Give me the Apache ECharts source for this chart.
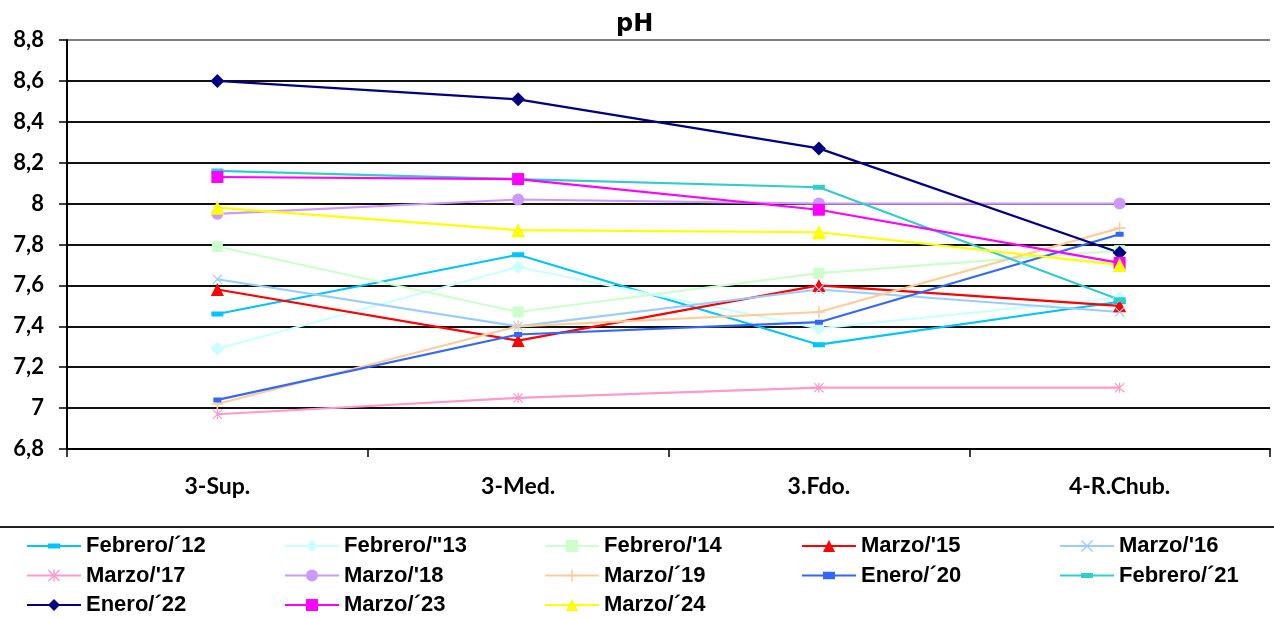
<!DOCTYPE html>
<html>
<head>
<meta charset="utf-8">
<title>pH</title>
<script src="https://cdn.jsdelivr.net/npm/echarts@6/dist/echarts.min.js"></script>
<style>
  html, body { margin: 0; padding: 0; background: #fff; }
  #chart { width: 1274px; height: 618px; }
</style>
</head>
<body>
<div id="chart"></div>
<script>
// Sampling points along the profile
const categories = ['3-Sup.', '3-Med.', '3.Fdo.', '4-R.Chub.'];

// pH readings per campaign (one value per sampling point)
const febrero12 = [7.46, 7.75, 7.31, 7.52];
const febrero13 = [7.29, 7.69, 7.39, 7.54];
const febrero14 = [7.79, 7.47, 7.66, 7.77];
const marzo15   = [7.58, 7.33, 7.60, 7.50];
const marzo16   = [7.63, 7.40, 7.58, 7.47];
const marzo17   = [6.97, 7.05, 7.10, 7.10];
const marzo18   = [7.95, 8.02, 8.00, 8.00];
const marzo19   = [7.02, 7.40, 7.47, 7.88];
const enero20   = [7.04, 7.36, 7.42, 7.85];
const febrero21 = [8.16, 8.12, 8.08, 7.53];
const enero22   = [8.60, 8.51, 8.27, 7.76];
const marzo23   = [8.13, 8.12, 7.97, 7.71];
const marzo24   = [7.98, 7.87, 7.86, 7.70];

// Value axis range
const yMin = 6.8;
const yMax = 8.8;
const yStep = 0.2;

// Marker shapes (dashes padded with empty points so their box stays square)
const DASH_WIDE  = 'path://M0,-3.5 L0,-3.5 Z M0,0 H12 V5 H0 Z M12,8.5 L12,8.5 Z';
const DASH_SHORT = 'path://M0,-1.5 L0,-1.5 Z M0,0 H8 V5 H0 Z M8,6.5 L8,6.5 Z';
const CROSS_X    = 'path://M0.8,0 L5,4.2 L9.2,0 L10,0.8 L5.8,5 L10,9.2 L9.2,10 L5,5.8 L0.8,10 L0,9.2 L4.2,5 L0,0.8 Z';
const ASTERISK   = 'path://M0.8,0 L5,4.2 L9.2,0 L10,0.8 L5.8,5 L10,9.2 L9.2,10 L5,5.8 L0.8,10 L0,9.2 L4.2,5 L0,0.8 Z M4.4,0 H5.6 V10 H4.4 Z';
const PLUS       = 'path://M4.35,0 H5.65 V4.35 H10 V5.65 H5.65 V10 H4.35 V5.65 H0 V4.35 H4.35 Z';

const seriesDefs = [
  { name: 'Febrero/´12', data: febrero12, color: '#00C4FF', symbol: DASH_WIDE,  size: 12 },
  { name: 'Febrero/"13', data: febrero13, color: '#CCFFFF', symbol: 'diamond',  size: 14 },
  { name: "Febrero/'14", data: febrero14, color: '#CCFFCC', symbol: 'rect',     size: 11 },
  { name: "Marzo/'15",   data: marzo15,   color: '#FF0000', symbol: 'triangle', size: 13 },
  { name: "Marzo/'16",   data: marzo16,   color: '#99CCFF', symbol: CROSS_X,    size: 10 },
  { name: "Marzo/'17",   data: marzo17,   color: '#FF99CC', symbol: ASTERISK,   size: 10 },
  { name: "Marzo/'18",   data: marzo18,   color: '#CC99FF', symbol: 'circle',   size: 12 },
  { name: 'Marzo/´19',   data: marzo19,   color: '#FFCC99', symbol: PLUS,       size: 12 },
  { name: 'Enero/´20',   data: enero20,   color: '#3366FF', symbol: DASH_SHORT, size: 8 },
  { name: 'Febrero/´21', data: febrero21, color: '#33CCCC', symbol: DASH_WIDE,  size: 12 },
  { name: 'Enero/´22',   data: enero22,   color: '#000080', symbol: 'diamond',  size: 14 },
  { name: 'Marzo/´23',   data: marzo23,   color: '#FF00FF', symbol: 'rect',     size: 12 },
  { name: 'Marzo/´24',   data: marzo24,   color: '#FFFF00', symbol: 'triangle', size: 14 }
];

// Legend laid out in five columns
const legendColumns = [
  { left: 26,   names: ['Febrero/´12', "Marzo/'17", 'Enero/´22'] },
  { left: 284,  names: ['Febrero/"13', "Marzo/'18", 'Marzo/´23'] },
  { left: 544,  names: ["Febrero/'14", 'Marzo/´19', 'Marzo/´24'] },
  { left: 801,  names: ["Marzo/'15", 'Enero/´20'] },
  { left: 1059, names: ["Marzo/'16", 'Febrero/´21'] }
];

const chart = echarts.init(document.getElementById('chart'), null, { renderer: 'canvas' });

const gridColors = [];
for (let i = 0; i < 10; i++) gridColors.push('#111');
gridColors.push('#808080');

const option = {
  animation: false,
  backgroundColor: '#fff',
  title: {
    text: 'pH',
    left: 611,
    top: 8,
    textStyle: { fontFamily: 'DejaVu Sans', fontWeight: 'bold', fontSize: 24, color: '#000' }
  },
  grid: { left: 67, right: 4, top: 40, bottom: 169, containLabel: false },
  graphic: [{
    type: 'line',
    shape: { x1: 0, y1: 527, x2: 1274, y2: 527 },
    style: { stroke: '#222', lineWidth: 2 }
  }],
  legend: legendColumns.map(col => ({
    orient: 'vertical',
    left: col.left,
    top: 535,
    padding: 0,
    itemWidth: 54,
    itemHeight: 15,
    itemGap: 7.5,
    data: col.names,
    textStyle: { fontFamily: 'Liberation Sans', fontWeight: 'bold', fontSize: 22, color: '#000' }
  })),
  xAxis: {
    type: 'category',
    data: categories,
    boundaryGap: true,
    axisLine: { lineStyle: { color: '#000', width: 2 } },
    axisTick: { show: true, length: 8, lineStyle: { color: '#000', width: 1.5 } },
    axisLabel: { margin: 26, fontFamily: 'Lato', fontWeight: 'bold', fontSize: 23, color: '#000' },
    splitLine: { show: false }
  },
  yAxis: {
    type: 'value',
    min: yMin,
    max: yMax,
    interval: yStep,
    axisLine: { show: true, lineStyle: { color: '#000', width: 2 } },
    axisTick: { show: true, length: 8, lineStyle: { color: '#000', width: 1.5 } },
    axisLabel: {
      margin: 23,
      fontFamily: 'Lato', fontWeight: 'bold', fontSize: 22, color: '#000',
      formatter: v => String(Math.round(v * 10) / 10).replace('.', ',')
    },
    splitLine: { show: true, lineStyle: { color: gridColors, width: 2 } }
  },
  series: seriesDefs.map(s => ({
    name: s.name,
    type: 'line',
    data: s.data,
    color: s.color,
    symbol: s.symbol,
    symbolSize: s.size,
    symbolKeepAspect: true,
    showAllSymbol: true,
    lineStyle: { color: s.color, width: 2.2 },
    itemStyle: { color: s.color, borderWidth: 0 },
    emphasis: { disabled: true }
  }))
};

chart.setOption(option);
</script>
</body>
</html>
